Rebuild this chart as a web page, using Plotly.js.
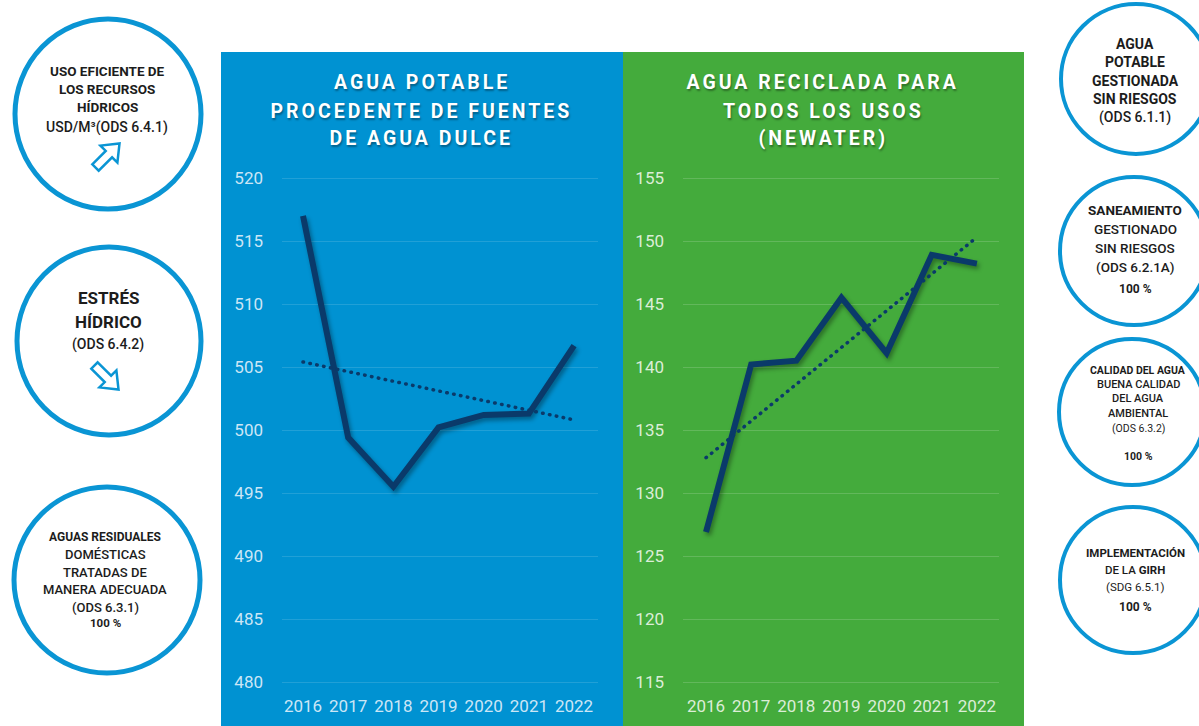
<!DOCTYPE html>
<html>
<head>
<meta charset="utf-8">
<script src="https://cdn.plot.ly/plotly-3.0.1.min.js"></script>
<style>
  html, body { margin: 0; padding: 0; background: #ffffff; }
  #chart { width: 1199px; height: 726px; }
</style>
</head>
<body>
<div id="chart"></div>
<script>
// ---------------- DATA ----------------
const years = ['2016', '2017', '2018', '2019', '2020', '2021', '2022'];
const aguaPotable = [517.0, 499.4, 495.5, 500.2, 501.2, 501.3, 506.7];
const aguaReciclada = [126.9, 140.2, 140.5, 145.5, 141.1, 148.9, 148.2];
const trendYears = ['2016', '2022'];
const aguaPotableTrend = [505.4, 500.8];
const aguaRecicladaTrend = [132.8, 150.3];
const yTicksPotable = [480, 485, 490, 495, 500, 505, 510, 515, 520];
const yTicksReciclada = [115, 120, 125, 130, 135, 140, 145, 150, 155];
const titlePotable = ['AGUA POTABLE', 'PROCEDENTE DE FUENTES', 'DE AGUA DULCE'];
const titleReciclada = ['AGUA RECICLADA PARA', 'TODOS LOS USOS', '(NEWATER)'];

// ---------------- HELPERS ----------------
const W = 1199, H = 726;
const px = x => x / W;
const py = y => 1 - y / H;
const FONT = 'Roboto, sans-serif';
const NAVY = '#0a3a6a';
const CIRCLE_BLUE = '#0a95d4';
const TXT = '#1c1c1c';

const shapes = [];
const annotations = [];

// panel backgrounds
shapes.push({type: 'rect', xref: 'paper', yref: 'paper', x0: px(221), x1: px(623), y0: 0, y1: py(52),
  fillcolor: '#0092d2', line: {width: 0}, layer: 'below'});
shapes.push({type: 'rect', xref: 'paper', yref: 'paper', x0: px(623), x1: px(1024), y0: 0, y1: py(52),
  fillcolor: '#44ab3c', line: {width: 0}, layer: 'below'});

// circles
function ring(cx, cy, rx, ry, w) {
  shapes.push({type: 'circle', xref: 'paper', yref: 'paper',
    x0: px(cx - rx), x1: px(cx + rx), y0: py(cy + ry), y1: py(cy - ry),
    line: {color: CIRCLE_BLUE, width: w}, fillcolor: 'rgba(0,0,0,0)', layer: 'above'});
}
ring(108, 114, 93, 95, 5);
ring(109, 341, 92, 94, 5);
ring(107, 580, 93, 93, 5);
ring(1136, 79, 75, 75, 4);
ring(1134, 251, 74, 74, 4);
ring(1132, 412, 73, 73, 4);
ring(1133, 580, 73, 73, 4);

// outline arrows
function arrow(cx, cy, angleDeg) {
  const pts = [[-17, -4.5], [2, -4.5], [2, -12], [17, 0], [2, 12], [2, 4.5], [-17, 4.5]];
  const a = angleDeg * Math.PI / 180;
  const c = Math.cos(a), s = Math.sin(a);
  const pp = pts.map(([x, y]) => [cx + x * c - y * s, cy + x * s + y * c]);
  const d = 'M ' + pp.map(([x, y]) => px(x).toFixed(5) + ',' + py(y).toFixed(5)).join(' L ') + ' Z';
  shapes.push({type: 'path', xref: 'paper', yref: 'paper', path: d,
    line: {color: CIRCLE_BLUE, width: 2.5}, fillcolor: '#ffffff', layer: 'above'});
}
arrow(107.5, 155.5, -45);
arrow(106.5, 377.5, 45);

// circle text
function txt(x, y, text, size, weight) {
  annotations.push({xref: 'paper', yref: 'paper', x: px(x), y: py(y), xanchor: 'center', yanchor: 'middle',
    text: text, showarrow: false, font: {family: FONT, size: size, color: TXT, weight: weight || 400}});
}
// left circle 1
txt(107, 71, 'USO EFICIENTE DE', 13.5, 700);
txt(107, 89, 'LOS RECURSOS', 13.5, 700);
txt(107, 107, 'HÍDRICOS', 13.5, 700);
txt(107, 127, 'USD/M³(ODS 6.4.1)', 14, 500);
// left circle 2
txt(108, 298, 'ESTRÉS', 17, 700);
txt(108, 322, 'HÍDRICO', 17, 700);
txt(108, 344, '(ODS 6.4.2)', 14, 500);
// left circle 3
txt(105, 537, 'AGUAS RESIDUALES', 12, 700);
txt(105, 554, 'DOMÉSTICAS', 13, 500);
txt(105, 572, 'TRATADAS DE', 13, 500);
txt(105, 589, 'MANERA ADECUADA', 13, 500);
txt(105, 607, '(ODS 6.3.1)', 13, 500);
txt(105, 623, '100 %', 11.5, 700);
// right circle 1
txt(1135, 44, 'AGUA', 14, 700);
txt(1135, 62, 'POTABLE', 14, 700);
txt(1135, 81, 'GESTIONADA', 14, 700);
txt(1135, 99, 'SIN RIESGOS', 14, 700);
txt(1135, 118, '(ODS 6.1.1)', 14, 500);
// right circle 2
txt(1135, 210, 'SANEAMIENTO', 13.5, 700);
txt(1135, 229, 'GESTIONADO', 13.5, 500);
txt(1135, 248, 'SIN RIESGOS', 13.5, 500);
txt(1135, 267, '(ODS 6.2.1A)', 13.5, 500);
txt(1135, 289, '100 %', 12, 700);
// right circle 3
txt(1138, 370, 'CALIDAD DEL AGUA', 10.5, 700);
txt(1138, 384, 'BUENA CALIDAD', 11, 500);
txt(1138, 399, 'DEL AGUA', 11, 500);
txt(1138, 413, 'AMBIENTAL', 11, 500);
txt(1138, 428, '(ODS 6.3.2)', 10.5, 400);
txt(1138, 456, '100 %', 10.5, 700);
// right circle 4
txt(1135, 553, 'IMPLEMENTACIÓN', 11.5, 700);
txt(1135, 570, 'DE LA <b>GIRH</b>', 11.5, 500);
txt(1135, 587, '(SDG 6.5.1)', 11.5, 400);
txt(1135, 607, '100 %', 12, 700);

// panel titles
const titleIdx = [];
const titleY = [83, 111, 138];
function title(cx, lines) {
  lines.forEach((t, i) => {
    titleIdx.push(annotations.length);
    annotations.push({xref: 'paper', yref: 'paper', x: px(cx), y: py(titleY[i]), xanchor: 'center', yanchor: 'middle',
      text: '<b>' + t + '</b>', showarrow: false,
      font: {family: FONT, size: 19.5, color: '#ffffff', shadow: '1px 2px 2px rgba(0,0,0,0.35)'}});
  });
}
title(422, titlePotable);
title(823, titleReciclada);

// ---------------- TRACES ----------------
const traces = [
  {x: years, y: aguaPotable, type: 'scatter', mode: 'lines', xaxis: 'x', yaxis: 'y',
    line: {color: NAVY, width: 6}, hoverinfo: 'skip'},
  {x: trendYears, y: aguaPotableTrend, type: 'scatter', mode: 'lines', xaxis: 'x', yaxis: 'y',
    line: {color: NAVY, width: 3.5, dash: '0.5px,6.5px'}, hoverinfo: 'skip'},
  {x: years, y: aguaReciclada, type: 'scatter', mode: 'lines', xaxis: 'x2', yaxis: 'y2',
    line: {color: NAVY, width: 6}, hoverinfo: 'skip'},
  {x: trendYears, y: aguaRecicladaTrend, type: 'scatter', mode: 'lines', xaxis: 'x2', yaxis: 'y2',
    line: {color: NAVY, width: 3.5, dash: '0.5px,6.5px'}, hoverinfo: 'skip'}
];

const tickFontBlue = {family: FONT, size: 17, color: 'rgba(225,240,250,0.92)'};
const tickFontGreen = {family: FONT, size: 17, color: 'rgba(235,245,232,0.92)'};

const xBase = {type: 'category', categoryorder: 'array', categoryarray: years, showgrid: false,
  zeroline: false, showline: false, ticks: '', fixedrange: true, ticklabelstandoff: 6};
const yBase = {zeroline: false, showline: false, ticks: '', fixedrange: true, ticklabelstandoff: 18,
  gridwidth: 1};

const layout = {
  width: W, height: H,
  margin: {l: 0, r: 0, t: 0, b: 0, pad: 0},
  paper_bgcolor: '#ffffff', plot_bgcolor: 'rgba(0,0,0,0)',
  showlegend: false,
  xaxis: Object.assign({}, xBase, {domain: [px(282), px(598)], range: [-0.465, 6.53], anchor: 'y',
    tickfont: tickFontBlue}),
  yaxis: Object.assign({}, yBase, {domain: [py(688.3), py(171.7)], range: [479.5, 520.5], anchor: 'x',
    tickvals: yTicksPotable, ticktext: yTicksPotable.map(String), tickfont: tickFontBlue,
    gridcolor: 'rgba(255,255,255,0.13)'}),
  xaxis2: Object.assign({}, xBase, {domain: [px(683), px(999)], range: [-0.51, 6.49], anchor: 'y2',
    tickfont: tickFontGreen}),
  yaxis2: Object.assign({}, yBase, {domain: [py(688.3), py(171.7)], range: [114.5, 155.5], anchor: 'x2',
    tickvals: yTicksReciclada, ticktext: yTicksReciclada.map(String), tickfont: tickFontGreen,
    gridcolor: 'rgba(255,255,255,0.16)'}),
  shapes: shapes,
  annotations: annotations
};

Plotly.newPlot('chart', traces, layout, {displayModeBar: false, staticPlot: true}).then(() => {
  // letter-spacing on panel titles
  document.querySelectorAll('g.annotation').forEach(g => {
    const idx = parseInt(g.getAttribute('data-index'), 10);
    if (titleIdx.indexOf(idx) >= 0) {
      g.querySelectorAll('text').forEach(t => { t.style.letterSpacing = '3px'; });
    }
  });
  // soft shadow under the main lines, round dots for trend lines
  document.querySelectorAll('.scatterlayer path.js-line').forEach(p => {
    const dash = p.style.strokeDasharray;
    if (!dash || dash === 'none' || dash === '') {
      p.style.filter = 'drop-shadow(2px 3px 2px rgba(0,0,0,0.35))';
    } else {
      p.style.strokeLinecap = 'round';
    }
  });
});
</script>
</body>
</html>
